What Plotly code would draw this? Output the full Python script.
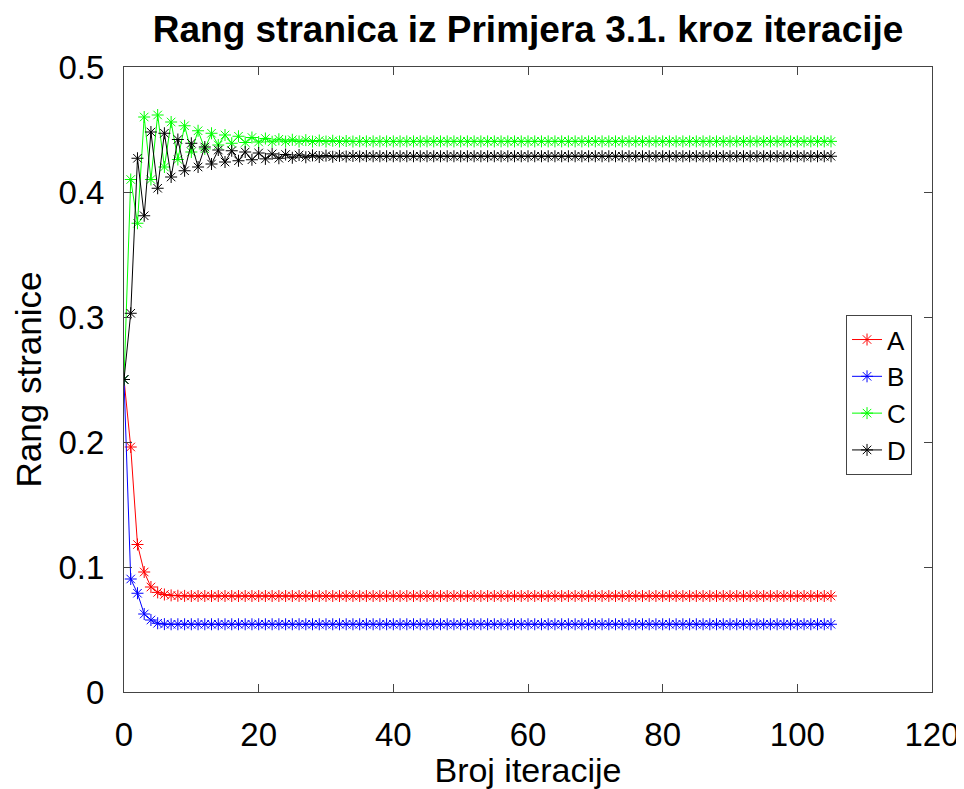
import plotly.graph_objects as go

iterations = list(range(106))

rank_A = [
    0.2500, 0.1960, 0.1180, 0.0960, 0.0840, 0.0797, 0.0780, 0.0773, 0.0770, 0.0769,
    0.0768, 0.0768, 0.0768, 0.0768, 0.0768, 0.0768, 0.0768, 0.0768, 0.0768, 0.0768, 0.0768, 0.0768,
    0.0768, 0.0768, 0.0768, 0.0768, 0.0768, 0.0768, 0.0768, 0.0768, 0.0768, 0.0768, 0.0768, 0.0768,
    0.0768, 0.0768, 0.0768, 0.0768, 0.0768, 0.0768, 0.0768, 0.0768, 0.0768, 0.0768, 0.0768, 0.0768,
    0.0768, 0.0768, 0.0768, 0.0768, 0.0768, 0.0768, 0.0768, 0.0768, 0.0768, 0.0768, 0.0768, 0.0768,
    0.0768, 0.0768, 0.0768, 0.0768, 0.0768, 0.0768, 0.0768, 0.0768, 0.0768, 0.0768, 0.0768, 0.0768,
    0.0768, 0.0768, 0.0768, 0.0768, 0.0768, 0.0768, 0.0768, 0.0768, 0.0768, 0.0768, 0.0768, 0.0768,
    0.0768, 0.0768, 0.0768, 0.0768, 0.0768, 0.0768, 0.0768, 0.0768, 0.0768, 0.0768, 0.0768, 0.0768,
    0.0768, 0.0768, 0.0768, 0.0768, 0.0768, 0.0768, 0.0768, 0.0768, 0.0768, 0.0768, 0.0768, 0.0768,
]

rank_B = [
    0.2500, 0.0904, 0.0790, 0.0624, 0.0576, 0.0550, 0.0543, 0.0542,
    0.0542, 0.0542, 0.0542, 0.0542, 0.0542, 0.0542, 0.0542, 0.0542, 0.0542, 0.0542, 0.0542, 0.0542,
    0.0542, 0.0542, 0.0542, 0.0542, 0.0542, 0.0542, 0.0542, 0.0542, 0.0542, 0.0542, 0.0542, 0.0542,
    0.0542, 0.0542, 0.0542, 0.0542, 0.0542, 0.0542, 0.0542, 0.0542, 0.0542, 0.0542, 0.0542, 0.0542,
    0.0542, 0.0542, 0.0542, 0.0542, 0.0542, 0.0542, 0.0542, 0.0542, 0.0542, 0.0542, 0.0542, 0.0542,
    0.0542, 0.0542, 0.0542, 0.0542, 0.0542, 0.0542, 0.0542, 0.0542, 0.0542, 0.0542, 0.0542, 0.0542,
    0.0542, 0.0542, 0.0542, 0.0542, 0.0542, 0.0542, 0.0542, 0.0542, 0.0542, 0.0542, 0.0542, 0.0542,
    0.0542, 0.0542, 0.0542, 0.0542, 0.0542, 0.0542, 0.0542, 0.0542, 0.0542, 0.0542, 0.0542, 0.0542,
    0.0542, 0.0542, 0.0542, 0.0542, 0.0542, 0.0542, 0.0542, 0.0542, 0.0542, 0.0542, 0.0542, 0.0542,
    0.0542, 0.0542,
]

rank_C = [
    0.2500, 0.4100, 0.3750, 0.4600, 0.4100, 0.4616, 0.4200, 0.4560, 0.4260, 0.4530,
    0.4320, 0.4490, 0.4345, 0.4470, 0.4376, 0.4456, 0.4390, 0.4446, 0.4396, 0.4436,
    0.4400, 0.4428, 0.4402, 0.4422, 0.4403, 0.4418, 0.4404, 0.4415, 0.4404, 0.4412,
    0.4404, 0.4410, 0.4404, 0.4408, 0.4404, 0.4406,
    0.4405, 0.4405, 0.4405, 0.4405, 0.4405, 0.4405, 0.4405, 0.4405, 0.4405, 0.4405, 0.4405, 0.4405,
    0.4405, 0.4405, 0.4405, 0.4405, 0.4405, 0.4405, 0.4405, 0.4405, 0.4405, 0.4405, 0.4405, 0.4405,
    0.4405, 0.4405, 0.4405, 0.4405, 0.4405, 0.4405, 0.4405, 0.4405, 0.4405, 0.4405, 0.4405, 0.4405,
    0.4405, 0.4405, 0.4405, 0.4405, 0.4405, 0.4405, 0.4405, 0.4405, 0.4405, 0.4405, 0.4405, 0.4405,
    0.4405, 0.4405, 0.4405, 0.4405, 0.4405, 0.4405, 0.4405, 0.4405, 0.4405, 0.4405, 0.4405, 0.4405,
    0.4405, 0.4405, 0.4405, 0.4405, 0.4405, 0.4405, 0.4405, 0.4405, 0.4405, 0.4405,
]

rank_D = [
    0.2500, 0.3030, 0.4270, 0.3810, 0.4480, 0.4030, 0.4470, 0.4120, 0.4420, 0.4170,
    0.4390, 0.4200, 0.4360, 0.4224, 0.4336, 0.4240, 0.4330, 0.4250, 0.4320, 0.4258,
    0.4312, 0.4265, 0.4305, 0.4270, 0.4300, 0.4274, 0.4296, 0.4278, 0.4293, 0.4280,
    0.4291, 0.4282, 0.4289, 0.4284, 0.4288, 0.4285, 0.4287, 0.4286,
    0.4286, 0.4286, 0.4286, 0.4286, 0.4286, 0.4286, 0.4286, 0.4286, 0.4286, 0.4286, 0.4286, 0.4286,
    0.4286, 0.4286, 0.4286, 0.4286, 0.4286, 0.4286, 0.4286, 0.4286, 0.4286, 0.4286, 0.4286, 0.4286,
    0.4286, 0.4286, 0.4286, 0.4286, 0.4286, 0.4286, 0.4286, 0.4286, 0.4286, 0.4286, 0.4286, 0.4286,
    0.4286, 0.4286, 0.4286, 0.4286, 0.4286, 0.4286, 0.4286, 0.4286, 0.4286, 0.4286, 0.4286, 0.4286,
    0.4286, 0.4286, 0.4286, 0.4286, 0.4286, 0.4286, 0.4286, 0.4286, 0.4286, 0.4286, 0.4286, 0.4286,
    0.4286, 0.4286, 0.4286, 0.4286, 0.4286, 0.4286, 0.4286, 0.4286,
]

series_names = ["A", "B", "C", "D"]
series_values = [rank_A, rank_B, rank_C, rank_D]
series_colors = ["#ff0000", "#0000ff", "#00ff00", "#000000"]

x_ticks = [0, 20, 40, 60, 80, 100, 120]
y_ticks = [0, 0.1, 0.2, 0.3, 0.4, 0.5]
y_tick_labels = ["0", "0.1", "0.2", "0.3", "0.4", "0.5"]

FONT = "Liberation Sans, Arial, sans-serif"
AXIS_COLOR = "#444444"

fig = go.Figure()
for name, vals, col in zip(series_names, series_values, series_colors):
    fig.add_trace(go.Scatter(
        x=iterations[:len(vals)], y=vals, name=name, mode="lines+markers",
        line=dict(color=col, width=1),
        marker=dict(symbol="asterisk-open", size=10, line=dict(color=col, width=1)),
    ))

# The page body has an 8px margin, so the figure is sized to fit inside the window.
fig.update_layout(
    width=956, height=781,
    margin=dict(l=116, r=32, t=59, b=97),
    paper_bgcolor="white", plot_bgcolor="white",
    font=dict(family=FONT, size=33, color="black"),
    title=dict(text="<b>Rang stranica iz Primjera 3.1. kroz iteracije</b>",
               x=0.544, xanchor="center", yref="container", y=0.973, yanchor="middle",
               font=dict(family=FONT, size=37, color="black")),
    showlegend=True,
    legend=dict(x=0.8936, y=0.603, xanchor="left", yanchor="top",
                bgcolor="white", bordercolor=AXIS_COLOR, borderwidth=1,
                font=dict(family=FONT, size=26, color="black"),
                itemwidth=30, tracegroupgap=0),
)
fig.update_xaxes(
    range=[0, 120], tickvals=x_ticks, ticks="inside", ticklen=8, tickcolor=AXIS_COLOR,
    showline=True, linecolor=AXIS_COLOR, linewidth=1, mirror="allticks",
    showgrid=False, zeroline=False, tickfont=dict(size=33),
    ticklabelstandoff=13, automargin=False,
    title=dict(text="Broj iteracije", font=dict(size=34), standoff=0),
)
fig.update_yaxes(
    range=[0, 0.5], tickvals=y_ticks, ticktext=y_tick_labels, ticks="inside", ticklen=8,
    tickcolor=AXIS_COLOR, showline=True, linecolor=AXIS_COLOR, linewidth=1, mirror="allticks",
    showgrid=False, zeroline=False, tickfont=dict(size=33),
    ticklabelstandoff=12, automargin=False,
    title=dict(text="Rang stranice", font=dict(size=35), standoff=6),
)

fig.write_html("out.html")
